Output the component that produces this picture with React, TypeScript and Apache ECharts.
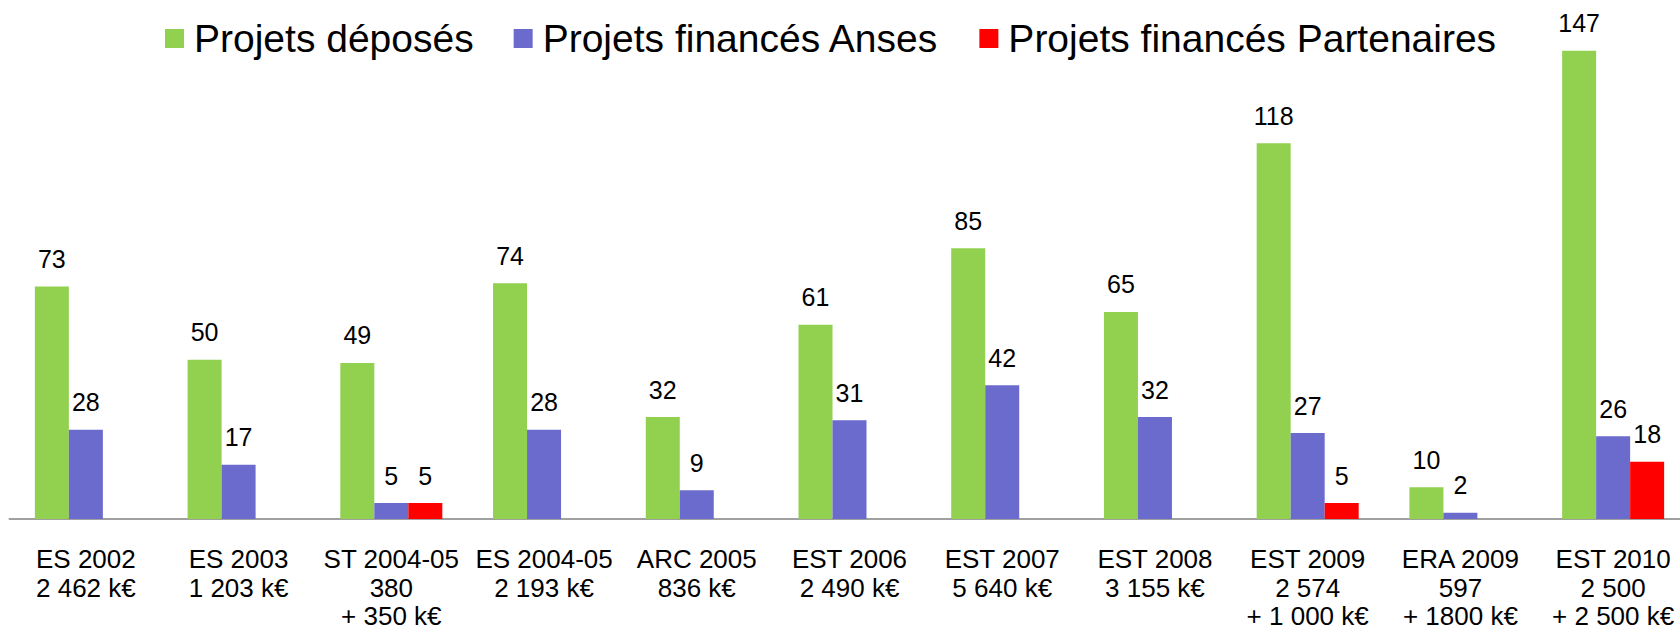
import React, { useEffect, useRef } from "react";
import * as echarts from "echarts";

const categories = [
  "ES 2002\n2 462 k€",
  "ES 2003\n1 203 k€",
  "ST 2004-05\n380\n+ 350 k€",
  "ES 2004-05\n2 193 k€",
  "ARC 2005\n836 k€",
  "EST 2006\n2 490 k€",
  "EST 2007\n5 640 k€",
  "EST 2008\n3 155 k€",
  "EST 2009\n2 574\n+ 1 000 k€",
  "ERA 2009\n597\n+ 1800 k€",
  "EST 2010\n2 500\n+ 2 500 k€",
];
const deposes = [73, 50, 49, 74, 32, 61, 85, 65, 118, 10, 147];
const financesAnses = [28, 17, 5, 28, 9, 31, 42, 32, 27, 2, 26];
const financesPartenaires = [null, null, 5, null, null, null, null, null, 5, null, 18];

const seriesNames = ["Projets déposés", "Projets financés Anses", "Projets financés Partenaires"];
const colors = ["#92D050", "#6B6BCD", "#FF0000"];

const FONT = "'Liberation Sans', Arial, sans-serif";

export default function App() {
  const ref = useRef<HTMLDivElement>(null);
  useEffect(() => {
    if (!ref.current) return;
    const chart = echarts.init(ref.current, null, { renderer: "svg" });
    const label = {
      show: true,
      position: "top",
      distance: 15,
      color: "#000",
      fontSize: 25,
      fontFamily: FONT,
    };
    const datas = [deposes, financesAnses, financesPartenaires];
    chart.setOption({
      animation: false,
      backgroundColor: "#fff",
      textStyle: { fontFamily: FONT },
      legend: {
        left: 160,
        top: 14,
        icon: "rect",
        itemWidth: 19,
        itemHeight: 19,
        itemGap: 40,
        textStyle: { fontSize: 39, color: "#000", fontFamily: FONT, padding: [0, 0, 0, 5] },
        data: seriesNames,
      },
      grid: {
        left: 9.5,
        width: 1680,
        top: 9.4,
        bottom: 115,
        containLabel: false,
        outerBoundsMode: "none",
      },
      xAxis: {
        type: "category",
        data: categories,
        axisLine: { show: true, lineStyle: { color: "#A0A0A0", width: 2 } },
        axisTick: { show: false },
        axisLabel: {
          interval: 0,
          color: "#000",
          fontSize: 26,
          lineHeight: 28.5,
          margin: 26,
          fontFamily: FONT,
        },
      },
      yAxis: {
        type: "value",
        min: 0,
        max: 160,
        show: false,
        splitLine: { show: false },
      },
      series: seriesNames.map((name, i) => ({
        name,
        type: "bar",
        data: datas[i],
        barWidth: 34,
        barGap: "0%",
        itemStyle: { color: colors[i] },
        label,
      })),
    });
    return () => chart.dispose();
  }, []);
  return (
    <div
      ref={ref}
      style={{ position: "fixed", left: 0, top: 0, width: 1680, height: 634, background: "#fff" }}
    />
  );
}
